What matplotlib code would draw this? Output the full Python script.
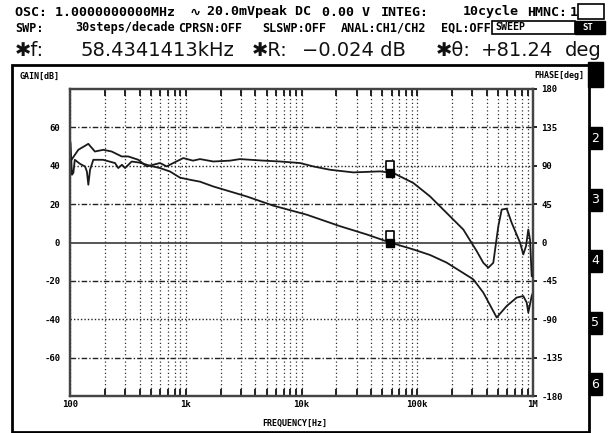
import matplotlib
matplotlib.use('Agg')
import matplotlib.pyplot as plt
from matplotlib.path import Path
from matplotlib.patches import Rectangle
from matplotlib.ticker import LogLocator, NullFormatter, FixedLocator

# ---------------- data ----------------
gain_freq = [101, 104, 107, 110, 122, 135, 140, 144, 149, 159, 193, 222, 245, 261, 281, 299,
             341, 403, 491, 599, 731, 892, 1088, 1328, 1730, 3362, 5708, 11090, 21510, 36590,
             58160, 92460, 128900, 179700, 305000, 372100, 485800, 592600, 723200, 824600,
             882200, 910700, 974500, 1000000]
gain_db = [52, 35.3, 36.4, 43.1, 41, 39.6, 36.9, 30.1, 37.9, 43.1, 43.1, 42.1, 41.4, 38.8, 40.5, 38.8,
           42.2, 41.6, 40, 38.8, 37, 33.8, 32.7, 31.7, 29.2, 24, 19.2, 14.5, 8.5, 4.2,
           0, -3.6, -6.5, -10.5, -19.2, -26.1, -39.1, -33.1, -28.7, -27.9,
           -31.3, -36.5, -27.9, -26.1]

phase_freq = [103, 118, 144, 164, 194, 229, 280, 319, 389, 460, 599, 685, 780, 952, 1155, 1328,
              1730, 2412, 2943, 4677, 6522, 9705, 12650, 17630, 28030, 47670, 62110, 92460,
              128900, 157300, 250000, 326300, 372100, 411000, 453900, 501500, 536600, 592600,
              654600, 772200, 824600, 870000, 910700, 941900, 974500, 1000000]
phase_deg = [97, 108.7, 115.7, 106.7, 108.7, 106.7, 100.9, 100.9, 97, 89.2, 93.2, 89.2, 93.2, 99, 96, 97.8,
             95, 96, 97.8, 96, 95, 93.2, 89.2, 85.3, 82.2, 83.4, 81.5, 69.8,
             54.1, 42.4, 15.2, -10.1, -23.8, -29.6, -23.8, 19, 38.6, 39.7,
             23, 0, -14, -4.3, 15.2, 3.5, -39.4, -40]

marker_freq = 58434.1413
marker_gain = -0.024
marker_phase = 81.24

gain_ticks = [60, 40, 20, 0, -20, -40, -60]
phase_ticks = [180, 135, 90, 45, 0, -45, -90, -135, -180]
freq_ticks = [100, 1e3, 1e4, 1e5, 1e6]
freq_labels = ['100', '1k', '10k', '100k', '1M']
tab_labels = ['2', '3', '4', '5', '6']

# ---------------- figure ----------------
W, H = 610, 433
fig = plt.figure(figsize=(W / 100, H / 100), dpi=100)
fig.patch.set_facecolor('white')
MONO = ['DejaVu Sans Mono', 'DejaVu Sans', 'DejaVu Serif', 'Noto Sans', 'Noto Sans CJK JP',
        'Liberation Sans']

ov = fig.add_axes([0, 0, 1, 1])
ov.set_xlim(0, W)
ov.set_ylim(H, 0)
ov.axis('off')

# header line 1
hdr1 = [(15, 'OSC: 1.0000000000MHz'), (190, '∿'), (207, '20.0mVpeak DC'), (322, '0.00 V'),
        (381, 'INTEG:'), (463, '10cycle'), (527, 'HMNC:'), (570, '1')]
for x, t in hdr1:
    ov.text(x, 12, t, family=MONO, fontweight='bold', fontsize=9.6, va='center', ha='left')
ov.add_patch(Rectangle((578, 4), 26, 15, fill=False, lw=1.2, ec='black'))

# header line 2
hdr2 = [(15, 'SWP:'), (75, '30steps/decade'), (178, 'CPRSN:OFF'), (262, 'SLSWP:OFF'),
        (341, 'ANAL:CH1/CH2'), (441, 'EQL:OFF')]
for x, t in hdr2:
    ov.text(x, 28, t, family=MONO, fontweight='bold', fontsize=8.5, va='center', ha='left')
ov.add_patch(Rectangle((492, 21), 83, 13, fill=False, lw=1.2, ec='black'))
ov.text(495, 27.5, 'SWEEP', family=MONO, fontweight='bold', fontsize=7.2, va='center', ha='left')
ov.add_patch(Rectangle((575, 21), 30, 13, fc='black', ec='black'))
ov.text(588, 27.5, 'ST', family=MONO, fontweight='bold', fontsize=6.5, va='center', ha='center', color='white')

# header line 3
hdr3 = [(15, '✱f:'), (80, '58.4341413kHz'), (252, '✱R:'), (302, '−0.024 dB'),
        (436, '✱θ:'), (481, '+81.24'), (565, 'deg')]
for x, t in hdr3:
    ov.text(x, 50, t, family='DejaVu Sans', fontsize=14, va='center', ha='left', color='#111111')

# outer frame
ov.add_patch(Rectangle((12, 65), 577, 367, fill=False, lw=2, ec='black'))
ov.add_patch(Rectangle((588, 62), 15, 25, fc='black', ec='black'))
for i, lab in enumerate(tab_labels):
    y0 = 127 + i * 61.5
    ov.add_patch(Rectangle((589, y0), 13, 22, fc='black', ec='black'))
    ov.text(595.5, y0 + 11, lab, color='white', fontsize=9, ha='center', va='center')

ov.text(20, 76, 'GAIN[dB]', family=MONO, fontweight='bold', fontsize=6, va='center', ha='left')
ov.text(584, 76, 'PHASE[deg]', family=MONO, fontweight='bold', fontsize=6, va='center', ha='right')
ov.text(295, 423, 'FREQUENCY[Hz]', family=MONO, fontweight='bold', fontsize=6, va='center', ha='center')

# ---------------- main plot ----------------
ax = fig.add_axes([70 / W, 1 - 396 / H, 463 / W, 307 / H])
ax.set_facecolor('none')
ax.set_xscale('log')
ax.set_xlim(100, 1e6)
ax.set_ylim(-80, 80)

ax2 = ax.twinx()
ax2.set_ylim(-180, 180)

for a in (ax, ax2):
    for s in a.spines.values():
        s.set_color('#444444')
        s.set_linewidth(1.6)

# vertical grid
ax.xaxis.set_major_locator(FixedLocator(freq_ticks))
ax.xaxis.set_minor_locator(LogLocator(base=10, subs=range(2, 10)))
ax.xaxis.set_minor_formatter(NullFormatter())
ax.set_xticklabels(freq_labels)
ax.grid(True, which='both', axis='x', color='#333333', lw=0.9, linestyle=(0, (1, 2)))
ax.tick_params(axis='x', which='both', direction='in', top=True, bottom=True,
               length=5, width=1.4, color='#222222', pad=3)
for lab in ax.get_xticklabels():
    lab.set_family(MONO)
    lab.set_fontweight('bold')
    lab.set_fontsize(6.5)

# horizontal lines at gain ticks
for v in gain_ticks:
    if v == 0:
        ax.axhline(v, color='#555555', lw=1.4, zorder=1)
    elif abs(v) == 40:
        ax.axhline(v, color='#222222', lw=1.0, linestyle=(0, (1, 1.5)), zorder=1)
    else:
        ax.axhline(v, color='#222222', lw=1.0, linestyle=(0, (4, 1.5, 1, 1.5)), zorder=1)

ax.set_yticks(gain_ticks)
ax.set_yticklabels([str(v) for v in gain_ticks])
ax.tick_params(axis='y', length=0, pad=7)
for lab in ax.get_yticklabels():
    lab.set_family(MONO)
    lab.set_fontweight('bold')
    lab.set_fontsize(6.5)

ax2.set_yticks(phase_ticks)
ax2.set_yticklabels([str(v) for v in phase_ticks])
ax2.tick_params(axis='y', length=3, width=1.2, pad=3, direction='out')
for lab in ax2.get_yticklabels():
    lab.set_family(MONO)
    lab.set_fontweight('bold')
    lab.set_fontsize(6.5)

# curves
ax.plot(gain_freq, gain_db, color='#1a1a1a', lw=1.3, zorder=3)
ax2.plot(phase_freq, phase_deg, color='#1a1a1a', lw=1.3, zorder=3)

# markers
flag = Path([(-0.3, 0.25), (-0.3, 1.0), (0.3, 1.0), (0.3, 0.25), (-0.3, 0.25)],
            [Path.MOVETO, Path.LINETO, Path.LINETO, Path.LINETO, Path.CLOSEPOLY])
for a, val in ((ax, marker_gain), (ax2, marker_phase)):
    a.plot([marker_freq], [val], marker=flag, ms=17, mfc='white', mec='black', mew=1.2,
           linestyle='none', zorder=5)
    a.plot([marker_freq], [val], marker='s', ms=6, mfc='black', mec='black',
           linestyle='none', zorder=6)

fig.savefig('out.png', dpi=100, facecolor='white')
